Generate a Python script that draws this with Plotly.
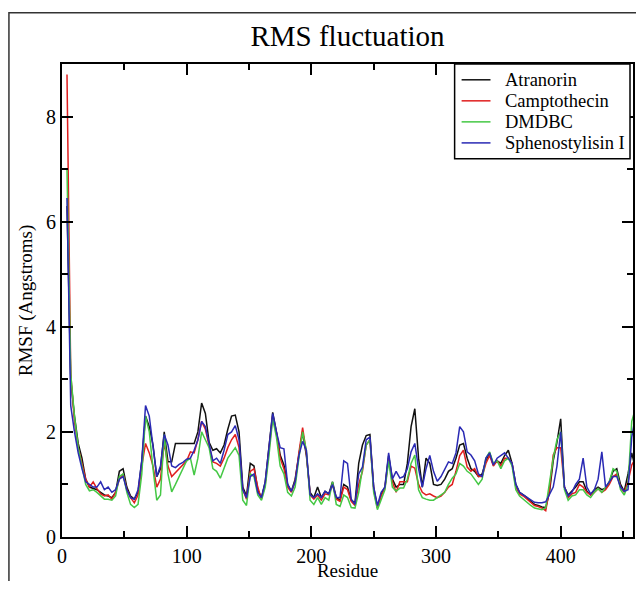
import plotly.graph_objects as go

residue = list(range(4, 461, 3))

atranorin = [
    6.3, 3.0, 2.3, 1.78, 1.5, 1.1, 0.95, 0.92, 0.9, 0.85,
    0.8, 0.78, 0.75, 0.85, 1.25, 1.3, 0.95, 0.78, 0.72, 0.85,
    1.45, 2.3, 2.1, 1.75, 1.15, 1.3, 2.0, 1.43, 1.43, 1.78,
    1.78, 1.78, 1.78, 1.78, 1.78, 2.0, 2.55, 2.35, 1.8, 1.65,
    1.68, 1.6, 1.75, 2.05, 2.3, 2.32, 2.0, 0.95, 0.78, 1.4,
    1.35, 0.9, 0.75, 1.05, 1.68, 2.37, 2.0, 1.56, 1.37, 1.0,
    0.87, 1.1, 1.56, 2.0, 1.55, 0.85, 0.75, 0.95, 0.75, 0.87,
    0.82, 1.05, 0.75, 0.7, 1.0, 0.95, 0.7, 0.65, 1.4, 1.75,
    1.93, 1.95, 0.95, 0.56, 0.81, 0.95, 1.55, 1.1, 0.95, 1.0,
    1.0, 1.4, 2.1, 2.44, 1.5, 0.95, 1.5, 1.4, 1.0, 0.98,
    1.0, 1.1, 1.25, 1.3, 1.5, 1.75, 1.78, 1.5, 1.3, 1.25,
    1.15, 1.2, 1.45, 1.6, 1.37, 1.45, 1.4, 1.55, 1.65, 1.4,
    1.0, 0.85, 0.8, 0.75, 0.68, 0.62, 0.6, 0.57, 0.56, 0.85,
    1.45, 1.8, 2.25, 0.95, 0.8, 0.87, 0.95, 1.05, 1.05, 0.87,
    0.8, 0.9, 0.95, 0.9, 0.93, 1.05, 1.25, 1.3, 1.0, 0.87,
    1.2, 1.6, 1.3,
]

camptothecin = [
    8.8, 3.1, 2.2, 1.7, 1.4, 1.1, 0.95, 1.05, 0.92, 0.82,
    0.78, 0.8, 0.72, 0.85, 1.1, 1.2, 0.9, 0.75, 0.65, 0.8,
    1.35, 1.78, 1.6, 1.35, 0.95, 1.1, 1.8, 1.35, 1.15, 1.22,
    1.3, 1.38, 1.45, 1.62, 1.6, 1.85, 2.2, 2.05, 1.75, 1.43,
    1.4, 1.35, 1.5, 1.7, 1.85, 1.95, 1.7, 0.9, 0.72, 1.25,
    1.3, 0.95, 0.72, 1.0, 1.65, 2.3, 1.98, 1.5, 1.3, 0.95,
    0.85, 1.05, 1.6, 2.08, 1.6, 0.8, 0.72, 0.8, 0.7, 0.82,
    0.8, 1.0, 0.72, 0.68, 0.95, 0.9, 0.68, 0.6, 1.0, 1.25,
    1.75, 1.85, 0.9, 0.55, 0.78, 0.92, 1.5, 1.05, 0.85, 1.05,
    1.05, 1.05, 1.35, 1.31, 1.0, 0.85, 0.8, 0.82, 0.78, 0.75,
    0.78, 0.85, 0.95, 1.0, 1.25, 1.55, 1.65, 1.33, 1.25, 1.3,
    1.15, 1.15, 1.4, 1.55, 1.35, 1.45, 1.35, 1.5, 1.5, 1.4,
    0.95, 0.82, 0.78, 0.72, 0.66, 0.6, 0.58, 0.55, 0.5, 0.9,
    1.56, 1.7, 1.7, 0.95, 0.75, 0.82, 0.85, 1.0, 0.95, 0.85,
    0.8, 0.85, 0.92, 0.85, 0.9, 1.0, 1.15, 1.2, 0.95, 0.85,
    1.05, 1.37, 1.5,
]

dmdbc = [
    7.0, 3.1, 2.3, 1.7, 1.35, 1.0, 0.88, 0.9, 0.85, 0.78,
    0.72, 0.72, 0.7, 0.78, 1.15, 1.2, 0.85, 0.62, 0.56, 0.62,
    1.2, 2.3, 2.0, 1.3, 0.7, 0.8, 1.95, 1.2, 0.86, 1.0,
    1.15, 1.3, 1.45, 1.5, 1.18, 1.5, 2.0, 1.85, 1.7, 1.3,
    1.25, 1.12, 1.3, 1.5, 1.6, 1.7, 1.55, 0.7, 0.6, 1.2,
    1.15, 0.8, 0.7, 0.95, 1.55, 2.25, 1.9, 1.35, 1.2, 0.85,
    0.78, 0.95, 1.5, 2.0, 1.65, 0.7, 0.62, 0.75, 0.62, 0.75,
    0.7, 1.05, 0.62, 0.58, 0.8, 0.75, 0.56, 0.55, 0.85, 1.3,
    1.75, 1.85, 0.85, 0.52, 0.7, 0.9, 1.45, 0.95, 0.87, 0.93,
    0.93, 1.1, 1.4, 1.56, 0.9, 0.75, 0.72, 0.7, 0.7, 0.75,
    0.8, 0.85, 1.0, 1.12, 1.2, 1.4, 1.35, 1.25, 1.2, 1.1,
    1.0, 1.1, 1.5, 1.62, 1.4, 1.45, 1.3, 1.45, 1.5, 1.35,
    0.9, 0.78, 0.72, 0.65, 0.6, 0.55, 0.53, 0.52, 0.56, 1.0,
    1.5, 1.85, 2.0, 0.9, 0.7, 0.78, 0.8, 0.9, 0.9, 0.8,
    0.75, 0.85, 0.92, 0.85, 0.95, 1.05, 1.3, 1.25, 0.9, 0.8,
    1.0, 2.2, 2.45,
]

sphenostylisin = [
    6.45, 2.5, 2.0, 1.6, 1.3, 1.05, 1.0, 0.95, 0.95, 1.05,
    0.9, 0.95, 0.85, 0.9, 1.1, 1.15, 0.9, 0.75, 0.72, 0.9,
    1.45, 2.5, 2.3, 1.7, 1.15, 1.35, 1.95, 1.75, 1.35, 1.32,
    1.38, 1.42, 1.48, 1.5, 1.65, 1.85, 2.2, 2.1, 1.75, 1.45,
    1.5, 1.4, 1.65, 1.95, 2.0, 2.12, 1.85, 0.9, 0.75, 1.15,
    1.2, 0.85, 0.75, 1.05, 1.7, 2.35, 2.0, 1.7, 1.68, 1.0,
    0.87, 1.05, 1.55, 1.82, 1.65, 0.8, 0.75, 0.82, 0.75, 0.87,
    0.82, 1.0, 0.75, 0.75, 1.45, 1.4, 0.72, 0.62, 1.2, 1.33,
    1.85, 1.9, 0.95, 0.6, 0.85, 0.95, 1.6, 1.1, 1.25, 1.12,
    1.15, 1.3, 1.62, 1.78, 1.3, 0.95, 1.3, 1.55, 1.25, 1.06,
    1.15, 1.3, 1.43, 1.4, 1.6, 2.1, 2.0, 1.62, 1.56, 1.45,
    1.2, 1.15, 1.5, 1.6, 1.37, 1.5, 1.55, 1.6, 1.5, 1.4,
    1.0, 0.85, 0.8, 0.75, 0.7, 0.66, 0.65, 0.65, 0.67, 0.8,
    0.95, 1.35, 2.0, 0.95, 0.78, 0.85, 1.0, 1.1, 1.5, 0.95,
    0.82, 0.9, 1.1, 1.62, 0.95, 1.05, 1.15, 1.15, 0.95, 0.87,
    0.9, 1.9, 2.3,
]

series_names = ["Atranorin", "Camptothecin", "DMDBC", "Sphenostylisin I"]
series_values = [atranorin, camptothecin, dmdbc, sphenostylisin]
series_colors = ["#111111", "#e01e1e", "#45c845", "#2a2ab4"]

SERIF = "Liberation Serif, Times New Roman, serif"

# the page body keeps an 8px margin: size the figure to fit the window without overflow
W, H = 628, 573
ML, MR, MT, MB = 54, 1, 56, 38
PW, PH = W - ML - MR, H - MT - MB


def px(x):
    return (x - ML) / PW


def py(y):
    return (H - MB - y) / PH


fig = go.Figure()
for name, vals, col in zip(series_names, series_values, series_colors):
    fig.add_trace(go.Scatter(x=residue, y=vals, mode="lines", name=name,
                             line=dict(color=col, width=1.5), showlegend=False))

axis_common = dict(
    showline=True, linecolor="black", linewidth=2, mirror="allticks",
    ticks="inside", ticklen=11, tickwidth=1.5, tickcolor="black",
    showgrid=False, zeroline=False,
    tickfont=dict(family=SERIF, size=20, color="black"),
)

fig.update_xaxes(range=[0, 458], dtick=100, tick0=0,
                 minor=dict(ticks="inside", ticklen=6, dtick=50, tickcolor="black", tickwidth=1.5),
                 title=dict(text="Residue", font=dict(family=SERIF, size=19, color="black"), standoff=0),
                 **axis_common)
fig.update_yaxes(range=[0, 9], dtick=2, tick0=0,
                 minor=dict(ticks="inside", ticklen=6, dtick=1, tickcolor="black", tickwidth=1.5),
                 title=dict(text="RMSF (Angstroms)", font=dict(family=SERIF, size=19, color="black"), standoff=8),
                 **axis_common)

# outer image frame
fig.add_shape(type="rect", xref="paper", yref="paper",
              x0=px(0.75), x1=px(W + 20), y0=py(H + 20), y1=py(4),
              line=dict(color="#333333", width=1.5), fillcolor="rgba(0,0,0,0)", layer="below")

# legend box (drawn like the original xmgrace legend)
LX0, LX1, LY0, LY1 = 448, 624, 56, 152
fig.add_shape(type="rect", xref="paper", yref="paper",
              x0=px(LX0), x1=px(LX1), y0=py(LY1), y1=py(LY0),
              line=dict(color="black", width=1.5), fillcolor="white", layer="above")
for i, (name, col) in enumerate(zip(series_names, series_colors)):
    yc = LY0 + 16 + 21.3 * i
    fig.add_shape(type="line", xref="paper", yref="paper",
                  x0=px(455), x1=px(484), y0=py(yc), y1=py(yc),
                  line=dict(color=col, width=1.5), layer="above")
    fig.add_annotation(xref="paper", yref="paper", x=px(497), y=py(yc),
                       xanchor="left", yanchor="middle", showarrow=False,
                       text=name, font=dict(family=SERIF, size=18.5, color="black"))

fig.update_layout(
    width=W, height=H,
    margin=dict(l=ML, r=MR, t=MT, b=MB),
    paper_bgcolor="white", plot_bgcolor="white",
    title=dict(text="RMS fluctuation", x=0.5, xref="paper", xanchor="center",
               y=1 - 28 / H, yref="container", yanchor="middle",
               font=dict(family=SERIF, size=29, color="black")),
    showlegend=False,
)

fig.write_html("out.html")
